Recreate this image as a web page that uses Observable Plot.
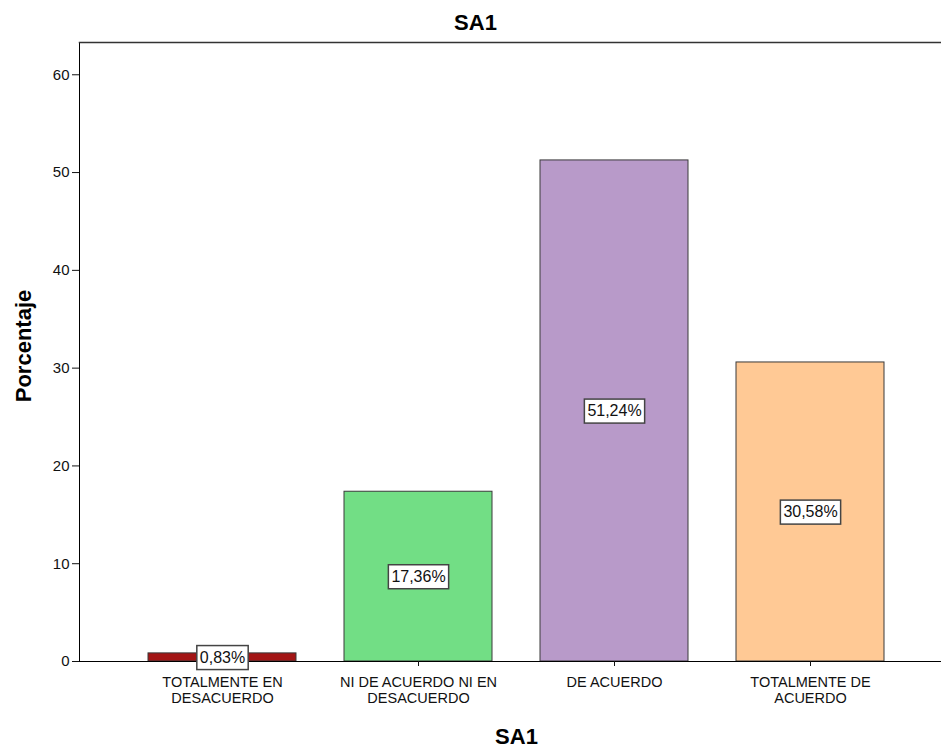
<!DOCTYPE html>
<html>
<head>
<meta charset="utf-8">
<script src="https://cdn.jsdelivr.net/npm/d3@7"></script>
<script src="https://cdn.jsdelivr.net/npm/@observablehq/plot@0.6"></script>
<style>
  html, body { margin: 0; padding: 0; background: #fff; }
  svg { font-family: "Liberation Sans", Arial, sans-serif; }
</style>
</head>
<body>
<div id="chart"></div>
<script>
const categories = ["TOTALMENTE EN\nDESACUERDO", "NI DE ACUERDO NI EN\nDESACUERDO", "DE ACUERDO", "TOTALMENTE DE\nACUERDO"];
const values = [0.83, 17.36, 51.24, 30.58];
const labels = ["0,83%", "17,36%", "51,24%", "30,58%"];
const colors = ["#a31515", "#72de85", "#b89ac9", "#ffc995"];
const yTicks = [0, 10, 20, 30, 40, 50, 60];
const title = "SA1";
const xTitle = "SA1";
const yTitle = "Porcentaje";

const data = categories.map((c, i) => ({cat: c, value: values[i], label: labels[i], color: colors[i]}));

const plot = Plot.plot({
  width: 941,
  height: 748,
  marginTop: 42,
  marginBottom: 87,
  marginLeft: 79,
  marginRight: 0,
  style: {fontFamily: "'Liberation Sans', Arial, sans-serif", fontSize: "12px", color: "#111"},
  x: {domain: categories, paddingInner: 0.244, paddingOuter: 0.31, align: 0.545, label: null},
  y: {domain: [0, 63.3], label: null},
  marks: [
    Plot.barY(data, {x: "cat", y: "value", fill: "color", stroke: "#3a3a3a", strokeWidth: 1}),
    Plot.ruleY([0], {stroke: "#000"}),
    Plot.frame({anchor: "left", stroke: "#000"}),
    Plot.frame({anchor: "top", stroke: "#333", strokeWidth: 1.5}),
    Plot.axisY({ticks: yTicks, tickSize: 7, tickPadding: 3, fontSize: 15, label: null}),
    Plot.axisX({tickSize: 5, tickPadding: 9, fontSize: 14.5, lineHeight: 1.1, label: null}),
    Plot.text(data, {x: "cat", y: d => d.value / 2, text: "label", fontSize: 16, fill: "#111"}),
    Plot.text([title], {frameAnchor: "top", lineAnchor: "middle", dy: -20, dx: -35, fontSize: 22, fontWeight: "bold", fill: "#000"}),
    Plot.text([xTitle], {frameAnchor: "bottom", lineAnchor: "middle", dy: 75, dx: 6, fontSize: 22, fontWeight: "bold", fill: "#000"}),
    Plot.text([yTitle], {frameAnchor: "left", textAnchor: "middle", lineAnchor: "middle", dx: -56, dy: -6, rotate: -90, fontSize: 22, fontWeight: "bold", fill: "#000"})
  ]
});

document.getElementById("chart").appendChild(plot);

const padX = 3, padY = 4;
plot.querySelectorAll("text").forEach(t => {
  if (!labels.includes(t.textContent)) return;
  const bb = t.getBBox();
  const r = document.createElementNS("http://www.w3.org/2000/svg", "rect");
  r.setAttribute("x", bb.x - padX);
  r.setAttribute("y", bb.y - padY + 1);
  r.setAttribute("width", bb.width + 2 * padX);
  r.setAttribute("height", bb.height + 2 * padY - 1);
  r.setAttribute("fill", "#fff");
  r.setAttribute("stroke", "#444");
  r.setAttribute("stroke-width", "1.5");
  const tr = t.getAttribute("transform");
  if (tr) r.setAttribute("transform", tr);
  t.parentNode.insertBefore(r, t);
});
</script>
</body>
</html>
